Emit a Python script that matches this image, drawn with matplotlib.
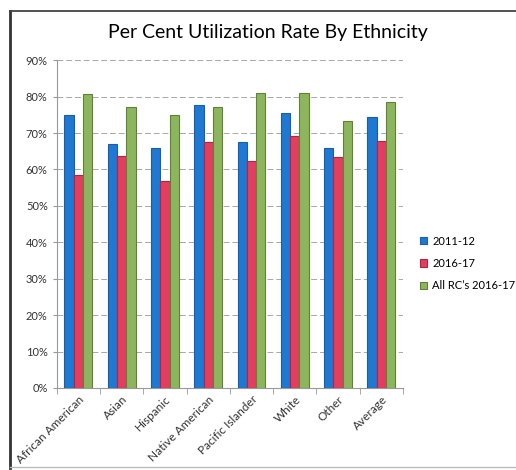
import numpy as np
import matplotlib.pyplot as plt
from matplotlib.lines import Line2D
from matplotlib.ticker import FuncFormatter

plt.rcParams['font.family'] = ['Lato', 'DejaVu Sans']

categories = ["African American", "Asian", "Hispanic", "Native American",
              "Pacific Islander", "White", "Other", "Average"]
rate_2011 = [75.0, 67.1, 65.8, 77.7, 67.6, 75.5, 66.0, 74.4]
rate_2016 = [58.5, 63.6, 56.8, 67.6, 62.2, 69.3, 63.4, 67.8]
rate_all_rc = [80.6, 77.2, 74.9, 77.2, 80.9, 81.1, 73.2, 78.4]
series_names = ["2011-12", "2016-17", "All RC\u2019s 2016-17"]

colors = ["#1f78d1", "#e23f60", "#8db55e"]
edges = ["#1a5ea6", "#b5233f", "#5f8236"]

fig = plt.figure(figsize=(5.16, 4.70), dpi=100)
ax = fig.add_axes([0.110, 0.1745, 0.671, 0.6975])

x = np.arange(len(categories))
width = 0.215
for i, (vals, name) in enumerate(zip([rate_2011, rate_2016, rate_all_rc], series_names)):
    ax.bar(x + (i - 1) * width, vals, width, color=colors[i], edgecolor=edges[i],
           linewidth=0.8, label=name, zorder=3)

ax.set_xlim(-0.5, len(categories) - 0.5)
ax.set_ylim(0, 90)
ax.set_yticks(np.arange(0, 91, 10))
ax.yaxis.set_major_formatter(FuncFormatter(lambda v, p: f"{int(v)}%"))
ax.grid(axis='y', color='#a8a8a8', linestyle=(0, (6, 3)), linewidth=0.7, zorder=0)

ax.set_xticks(x)
ax.set_xticklabels(categories, rotation=45, ha='right', rotation_mode='anchor',
                   fontsize=8.5, color='#333333')
ax.tick_params(axis='x', length=0, pad=4)
ax.set_xticks(np.arange(-0.5, len(categories)), minor=True)
ax.tick_params(axis='x', which='minor', length=4, color='#999999')
ax.tick_params(axis='y', length=3, color='#999999', labelsize=8, labelcolor='#333333')

for s in ['top', 'right']:
    ax.spines[s].set_visible(False)
ax.spines['left'].set_color('#999999')
ax.spines['bottom'].set_color('#999999')

fig.text(0.52, 0.93, "Per Cent Utilization Rate By Ethnicity", ha='center', va='center',
         fontsize=14, color='#000000')

ax.legend(loc='center left', bbox_to_anchor=(1.02, 0.38), frameon=False, fontsize=8,
          handlelength=0.6, handleheight=0.6, handletextpad=0.5, labelspacing=1.0)

# outer chart frame (scanned border: dark left/top, faint bottom)
fig.add_artist(Line2D([0.02, 0.02], [0.005, 0.977], transform=fig.transFigure,
                      color='#333333', linewidth=2))
fig.add_artist(Line2D([0.02, 1.0], [0.977, 0.977], transform=fig.transFigure,
                      color='#444444', linewidth=1.3))
fig.add_artist(Line2D([0.02, 1.0], [0.006, 0.006], transform=fig.transFigure,
                      color='#bbbbbb', linewidth=1))

fig.savefig("out.png", dpi=100)
